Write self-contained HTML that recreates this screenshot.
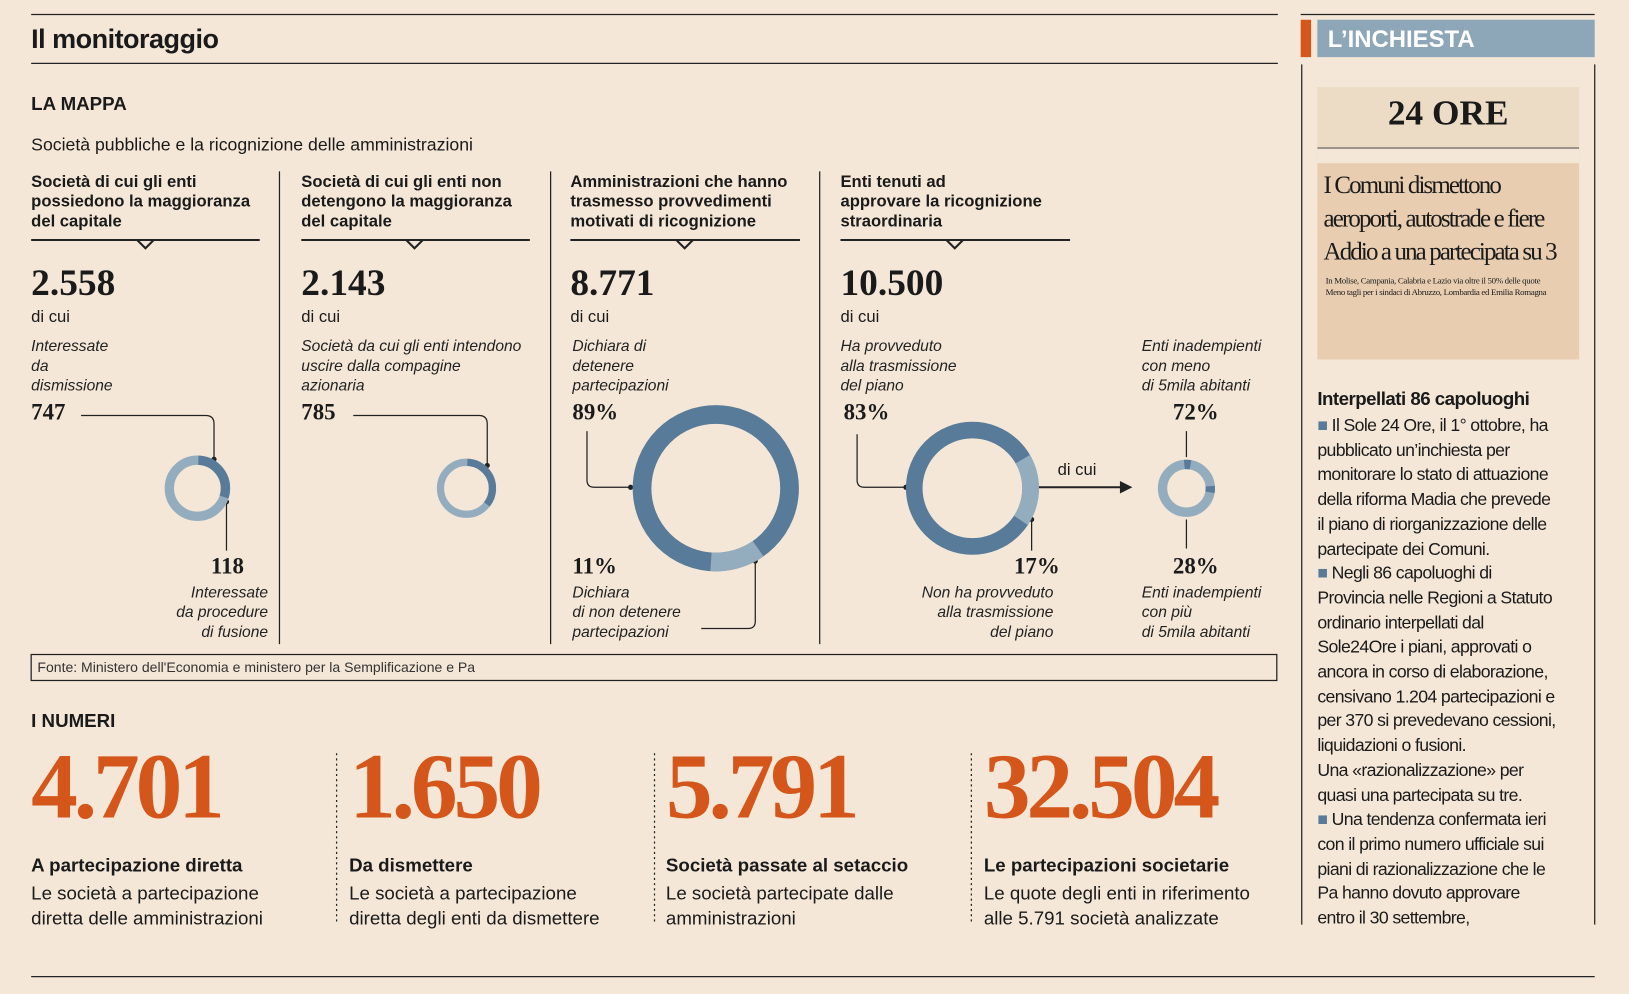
<!DOCTYPE html>
<html><head><meta charset="utf-8"><style>
html,body{margin:0;padding:0;background:#f4e7d7;overflow:hidden;width:1629px;height:994px}
#w{position:absolute;left:0;top:0;width:1568px;height:957px;transform:scale(1.0389);transform-origin:0 0;font-family:"Liberation Sans",sans-serif;color:#1a1a1a}
.a{position:absolute;white-space:nowrap}
.h{font-weight:bold;font-size:16px;line-height:19px}
.num{font-family:"Liberation Serif",serif;font-weight:bold;font-size:36px}
.it{font-style:italic;font-size:15px;line-height:19px;color:#222}
.s{font-size:16px}
.v{font-family:"Liberation Serif",serif;font-weight:bold;font-size:22px}
.big{font-family:"Liberation Serif",serif;font-size:90px;color:#d4561a;letter-spacing:-4px;font-weight:bold}
.rt{font-size:17px;line-height:23.7px;letter-spacing:-0.6px}
</style></head><body><div id="w">
<svg class="a" style="left:0;top:0" width="1568" height="957">
<g stroke="#222" fill="none" stroke-width="1.2">
<line x1="30" y1="14" x2="1230" y2="14"/><line x1="30" y1="61" x2="1230" y2="61"/>
<line x1="1252" y1="14" x2="1535" y2="14"/>
<line x1="30" y1="940" x2="1535" y2="940"/>
<line x1="269" y1="165" x2="269" y2="620"/><line x1="530" y1="165" x2="530" y2="620"/><line x1="789" y1="165" x2="789" y2="620"/>
<path d="M30 231H250M290 231H510M549 231H770M809 231H1030" stroke-width="2"/>
<path d="M132 231l8 8 8-8M391 231l8 8 8-8M651 231l8 8 8-8M911 231l8 8 8-8" stroke-width="2"/>
<rect x="30" y="630" width="1199" height="25"/>
<path d="M1253 62V890M1535 62V890"/>
<path d="M324 725V890M630 725V890M935 725V890" stroke-dasharray="2 3"/>
<path d="M78 400H198q8 0 8 8V442"/>
<path d="M218 483V530"/>
<path d="M340 400H461q8 0 8 8V448"/>
<path d="M565 415V462q0 7 7 7H607"/>
<path d="M727 540V598q0 7-7 7H675"/>
<path d="M825 418V462q0 7 7 7H872"/>
<path d="M993 500V530"/>
<path d="M1142 415V440M1142 500V528"/>
</g>
<g fill="#222"><circle cx="206" cy="442" r="2.5"/><circle cx="218" cy="483" r="2.5"/><circle cx="469" cy="448" r="2.5"/><circle cx="607" cy="469" r="2.5"/><circle cx="727" cy="540" r="2.5"/><circle cx="872" cy="469" r="2.5"/><circle cx="993" cy="500" r="2.5"/></g>
<path d="M1000 469H1080" stroke="#222" stroke-width="2"/><path d="M1078 463l12 6-12 6z" fill="#222"/>
<g fill="none">
<circle cx="190" cy="470" r="27" stroke="#93adbf" stroke-width="9"/>
<circle cx="190" cy="470" r="27" stroke="#577b98" stroke-width="9" stroke-dasharray="50 200" transform="rotate(-88 190 470)"/>
<circle cx="449" cy="470" r="25" stroke="#93adbf" stroke-width="7"/>
<circle cx="449" cy="470" r="25" stroke="#577b98" stroke-width="7" stroke-dasharray="55 200" transform="rotate(-88 449 470)"/>
<circle cx="689" cy="470" r="71" stroke="#577b98" stroke-width="18"/>
<circle cx="689" cy="470" r="71" stroke="#93adbf" stroke-width="18" stroke-dasharray="48 500" transform="rotate(55 689 470)"/>
<circle cx="936" cy="470" r="56" stroke="#577b98" stroke-width="16"/>
<circle cx="936" cy="470" r="56" stroke="#93adbf" stroke-width="16" stroke-dasharray="62 500" transform="rotate(-30 936 470)"/>
<circle cx="1142" cy="470" r="23" stroke="#93adbf" stroke-width="9"/>
<circle cx="1142" cy="470" r="23" stroke="#577b98" stroke-width="9" stroke-dasharray="6 30 6 200" transform="rotate(-95 1142 470)"/>
</g>
</svg>
<div class="a" style="left:30px;top:22px;font-weight:bold;font-size:26px;letter-spacing:-0.5px">Il monitoraggio</div>
<div class="a" style="left:30px;top:90px;font-weight:bold;font-size:18px">LA MAPPA</div>
<div class="a s" style="left:30px;top:130px;font-size:17px">Società pubbliche e la ricognizione delle amministrazioni</div>
<div class="a h" style="left:30px;top:166px">Società di cui gli enti<br>possiedono la maggioranza<br>del capitale</div>
<div class="a h" style="left:290px;top:166px">Società di cui gli enti non<br>detengono la maggioranza<br>del capitale</div>
<div class="a h" style="left:549px;top:166px">Amministrazioni che hanno<br>trasmesso provvedimenti<br>motivati di ricognizione</div>
<div class="a h" style="left:809px;top:166px">Enti tenuti ad<br>approvare la ricognizione<br>straordinaria</div>
<div class="a num" style="left:30px;top:251px">2.558</div>
<div class="a num" style="left:290px;top:251px">2.143</div>
<div class="a num" style="left:549px;top:251px">8.771</div>
<div class="a num" style="left:809px;top:251px">10.500</div>
<div class="a s" style="left:30px;top:297px">di cui</div><div class="a s" style="left:290px;top:297px">di cui</div><div class="a s" style="left:549px;top:297px">di cui</div><div class="a s" style="left:809px;top:297px">di cui</div>
<div class="a it" style="left:30px;top:324px">Interessate<br>da<br>dismissione</div>
<div class="a it" style="left:290px;top:324px">Società da cui gli enti intendono<br>uscire dalla compagine<br>azionaria</div>
<div class="a it" style="left:551px;top:324px">Dichiara di<br>detenere<br>partecipazioni</div>
<div class="a it" style="left:809px;top:324px">Ha provveduto<br>alla trasmissione<br>del piano</div>
<div class="a it" style="left:1099px;top:324px">Enti inadempienti<br>con meno<br>di 5mila abitanti</div>
<div class="a v" style="left:30px;top:384px">747</div><div class="a v" style="left:290px;top:384px">785</div>
<div class="a v" style="left:551px;top:384px">89%</div><div class="a v" style="left:812px;top:384px">83%</div><div class="a v" style="left:1129px;top:384px">72%</div>
<div class="a v" style="left:203px;top:532px">118</div>
<div class="a v" style="left:551px;top:532px">11%</div><div class="a v" style="left:976px;top:532px">17%</div><div class="a v" style="left:1129px;top:532px">28%</div>
<div class="a it" style="right:1310px;top:561px;text-align:right">Interessate<br>da procedure<br>di fusione</div>
<div class="a it" style="left:551px;top:561px">Dichiara<br>di non detenere<br>partecipazioni</div>
<div class="a it" style="right:554px;top:561px;text-align:right">Non ha provveduto<br>alla trasmissione<br>del piano</div>
<div class="a it" style="left:1099px;top:561px">Enti inadempienti<br>con più<br>di 5mila abitanti</div>
<div class="a s" style="left:1018px;top:444px">di cui</div>
<div class="a" style="left:36px;top:635px;font-size:13.5px;color:#333">Fonte: Ministero dell'Economia e ministero per la Semplificazione e Pa</div>
<div class="a" style="left:30px;top:684px;font-weight:bold;font-size:18px">I NUMERI</div>
<div class="a big" style="left:30px;top:706px">4.701</div>
<div class="a big" style="left:336px;top:706px">1.650</div>
<div class="a big" style="left:641px;top:706px">5.791</div>
<div class="a big" style="left:947px;top:706px">32.504</div>
<div class="a" style="left:30px;top:823px;font-weight:bold;font-size:18px">A partecipazione diretta</div>
<div class="a" style="left:336px;top:823px;font-weight:bold;font-size:18px">Da dismettere</div>
<div class="a" style="left:641px;top:823px;font-weight:bold;font-size:18px">Società passate al setaccio</div>
<div class="a" style="left:947px;top:823px;font-weight:bold;font-size:18px">Le partecipazioni societarie</div>
<div class="a" style="left:30px;top:848px;font-size:18px;line-height:24px">Le società a partecipazione<br>diretta delle amministrazioni</div>
<div class="a" style="left:336px;top:848px;font-size:18px;line-height:24px">Le società a partecipazione<br>diretta degli enti da dismettere</div>
<div class="a" style="left:641px;top:848px;font-size:18px;line-height:24px">Le società partecipate dalle<br>amministrazioni</div>
<div class="a" style="left:947px;top:848px;font-size:18px;line-height:24px">Le quote degli enti in riferimento<br>alle 5.791 società analizzate</div>
<div class="a" style="left:1252px;top:19px;width:10px;height:36px;background:#d4561a"></div>
<div class="a" style="left:1268px;top:19px;width:267px;height:36px;background:#8ea7b8;color:#fff;font-weight:bold;font-size:23px;line-height:36px;padding-left:10px;box-sizing:border-box">L’INCHIESTA</div>
<div class="a" style="left:1268px;top:84px;width:252px;height:262px;background:#e8cdb0;overflow:hidden">
<div style="height:58px;background:#ecdcc6;border-bottom:1px solid #444;text-align:center;font-family:'Liberation Serif',serif;font-weight:bold;font-size:34px;line-height:52px">24 ORE</div>
<div style="height:14px;background:#f4e7d7"></div>
<div style="padding:6px 6px;font-family:'Liberation Serif',serif;font-size:24px;line-height:32px;letter-spacing:-1.8px">I Comuni dismettono<br>aeroporti, autostrade e fiere<br>Addio a una partecipata su 3</div>
<div style="padding:0 8px;font-family:'Liberation Serif',serif;font-size:8.5px;line-height:11px;letter-spacing:-0.3px">In Molise, Campania, Calabria e Lazio via oltre il 50% delle quote<br>Meno tagli per i sindaci di Abruzzo, Lombardia ed Emilia Romagna</div>
</div>
<div class="a" style="left:1268px;top:374px;font-weight:bold;font-size:18px;letter-spacing:-0.5px">Interpellati 86 capoluoghi</div>
<div class="a rt" style="left:1268px;top:398px"><span style="color:#577b98">■</span> Il Sole 24 Ore, il 1° ottobre, ha<br>pubblicato un’inchiesta per<br>monitorare lo stato di attuazione<br>della riforma Madia che prevede<br>il piano di riorganizzazione delle<br>partecipate dei Comuni.<br><span style="color:#577b98">■</span> Negli 86 capoluoghi di<br>Provincia nelle Regioni a Statuto<br>ordinario interpellati dal<br>Sole24Ore i piani, approvati o<br>ancora in corso di elaborazione,<br>censivano 1.204 partecipazioni e<br>per 370 si prevedevano cessioni,<br>liquidazioni o fusioni.<br>Una «razionalizzazione» per<br>quasi una partecipata su tre.<br><span style="color:#577b98">■</span> Una tendenza confermata ieri<br>con il primo numero ufficiale sui<br>piani di razionalizzazione che le<br>Pa hanno dovuto approvare<br>entro il 30 settembre,</div>
</div></body></html>
